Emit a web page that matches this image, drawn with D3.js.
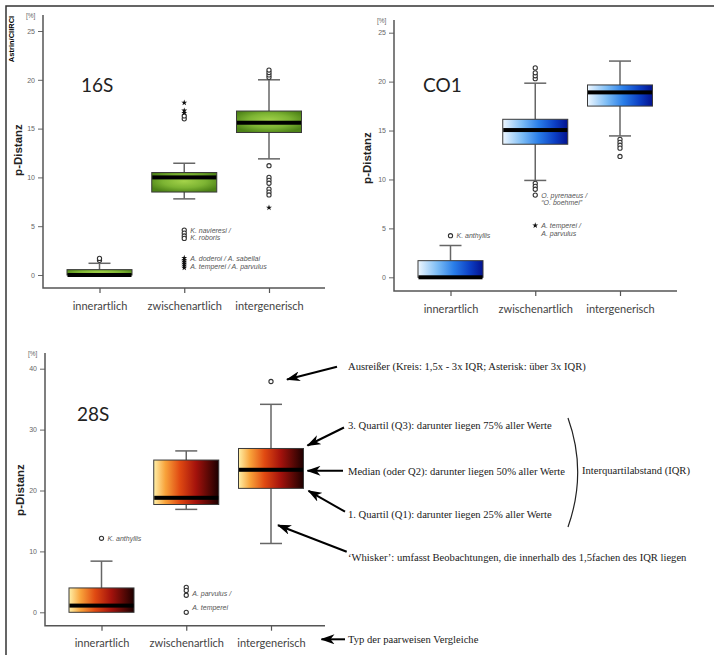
<!DOCTYPE html>
<html>
<head>
<meta charset="utf-8">
<script src="https://cdn.jsdelivr.net/npm/d3@7"></script>
<style>
  body { margin: 0; background: #fff; }
  svg { display: block; }
</style>
</head>
<body>
<div id="chart"></div>
<script>
// categories of pairwise comparison
const categories = ['innerartlich', 'zwischenartlich', 'intergenerisch'];

// 16S box statistics (p-distance, %)
const s16Q1 = [0, 8.5, 14.6];
const s16Median = [0, 10.0, 15.6];
const s16Q3 = [0.55, 10.5, 16.8];
const s16WhiskerLo = [0, 7.8, 11.9];
const s16WhiskerHi = [1.2, 11.45, 20.0];
const s16Circles = [[1.5, 1.7], [16.0, 16.3, 4.6, 4.3, 4.0, 3.75], [20.25, 20.5, 20.75, 21.0, 11.2, 10.0, 9.7, 9.4, 8.8, 8.5, 8.2]];
const s16Stars = [[], [16.6, 16.85, 17.65, 1.75, 1.55, 1.35, 1.15, 0.95, 0.75], [6.9]];
const s16Notes = [
  { cat: 'zwischenartlich', v: 4.6, text: 'K. navieresi /' },
  { cat: 'zwischenartlich', v: 3.85, text: 'K. roboris' },
  { cat: 'zwischenartlich', v: 1.65, text: 'A. doderoi / A. sabellai' },
  { cat: 'zwischenartlich', v: 0.9, text: 'A. temperei / A. parvulus' }
];

// CO1
const co1Q1 = [0, 13.6, 17.5];
const co1Median = [0, 15.05, 18.9];
const co1Q3 = [1.7, 16.15, 19.66];
const co1WhiskerLo = [0, 9.9, 14.45];
const co1WhiskerHi = [3.25, 19.84, 22.1];
const co1Circles = [[4.25], [20.3, 20.6, 20.9, 21.4, 9.6, 9.3, 9.0, 8.4], [14.1, 13.8, 13.5, 13.2, 12.35]];
const co1Stars = [[], [5.3], []];
const co1Notes = [
  { cat: 'innerartlich', v: 4.25, text: 'K. anthyllis' },
  { cat: 'zwischenartlich', v: 8.4, text: 'O. pyrenaeus /' },
  { cat: 'zwischenartlich', v: 7.6, text: '\u201cO. boehmei\u201d' },
  { cat: 'zwischenartlich', v: 5.3, text: 'A. temperei /' },
  { cat: 'zwischenartlich', v: 4.5, text: 'A. parvulus' }
];

// 28S
const s28Q1 = [0, 17.7, 20.35];
const s28Median = [1.1, 18.8, 23.4];
const s28Q3 = [4.0, 25.0, 26.9];
const s28WhiskerLo = [0, 16.9, 11.3];
const s28WhiskerHi = [8.4, 26.5, 34.15];
const s28Circles = [[12.15], [4.1, 3.6, 2.8, 0], [37.9]];
const s28Stars = [[], [], []];
const s28Notes = [
  { cat: 'innerartlich', v: 12.15, text: 'K. anthyllis' },
  { cat: 'zwischenartlich', v: 3.0, text: 'A. parvulus /' },
  { cat: 'zwischenartlich', v: 0.7, text: 'A. temperei' }
];

const ticks25 = [0, 5, 10, 15, 20, 25];
const ticks40 = [0, 10, 20, 30, 40];

const width = 714;
const height = 655;
const boxW = 65;
const capW = 22;

const svg = d3.select('#chart').append('svg')
  .attr('width', width)
  .attr('height', height);

const defs = svg.append('defs');

// box fills
const green = defs.append('radialGradient').attr('id', 'g16').attr('cx', '50%').attr('cy', '45%').attr('r', '60%');
green.append('stop').attr('offset', '0%').attr('stop-color', '#a3d24a');
green.append('stop').attr('offset', '55%').attr('stop-color', '#7db433');
green.append('stop').attr('offset', '100%').attr('stop-color', '#4d8217');

const blue = defs.append('linearGradient').attr('id', 'gco1');
[['0%', '#eef7ff'], ['30%', '#7cbcf5'], ['55%', '#2a7ee8'], ['80%', '#0c3fc4'], ['100%', '#03128f']]
  .forEach(([o, c]) => blue.append('stop').attr('offset', o).attr('stop-color', c));

const orange = defs.append('linearGradient').attr('id', 'g28');
[['0%', '#fff0a8'], ['18%', '#f8a23a'], ['40%', '#e04a12'], ['65%', '#a4120c'], ['100%', '#1c0000']]
  .forEach(([o, c]) => orange.append('stop').attr('offset', o).attr('stop-color', c));

defs.append('marker')
  .attr('id', 'arrow')
  .attr('viewBox', '0 0 14 10')
  .attr('refX', 13).attr('refY', 5)
  .attr('markerWidth', 14).attr('markerHeight', 10)
  .attr('markerUnits', 'userSpaceOnUse')
  .attr('orient', 'auto')
  .append('path')
  .attr('d', 'M0,0 L14,5 L0,10 L4,5 Z')
  .attr('fill', '#000');

// frame
svg.append('path')
  .attr('d', `M6,${height} V6 H${width}`)
  .attr('fill', 'none')
  .attr('stroke', '#333')
  .attr('stroke-width', 1.5);

svg.append('text')
  .attr('transform', 'translate(14,39) rotate(-90)')
  .attr('text-anchor', 'middle')
  .attr('font-family', 'Liberation Sans, Arial, sans-serif')
  .attr('font-size', 7.5)
  .attr('font-weight', 'bold')
  .text('Astrin/CIIRCI');

function drawPanel(p) {
  const g = svg.append('g');
  const x = d3.scalePoint().domain(categories).range([p.x0 + 56.5, p.x0 + 226]);
  const y = d3.scaleLinear().domain(p.domain).range(p.range);

  // y axis
  const ya = g.append('g')
    .attr('transform', `translate(${p.x0},0)`)
    .call(d3.axisLeft(y).tickValues(p.ticks).tickSize(5).tickPadding(3));
  ya.select('.domain').remove();
  ya.selectAll('line').attr('stroke', '#666');
  ya.selectAll('text').attr('fill', '#666').attr('font-size', 7).attr('font-family', 'Liberation Sans, Arial, sans-serif');

  // x axis
  const xa = g.append('g')
    .attr('transform', `translate(0,${p.axisY})`)
    .call(d3.axisBottom(x).tickSize(5).tickPadding(9));
  xa.select('.domain').remove();
  xa.selectAll('line').attr('stroke', '#555').attr('stroke-width', 1.2);
  xa.selectAll('text').attr('fill', '#444').attr('font-size', 11).attr('font-family', 'Lato, Open Sans, sans-serif');

  g.append('path')
    .attr('d', `M${p.x0},${p.top} V${p.axisY} H${p.xEnd}`)
    .attr('fill', 'none')
    .attr('stroke', '#555')
    .attr('stroke-width', 1.5);

  g.append('text')
    .attr('x', p.x0 - 17).attr('y', p.top + 3)
    .attr('font-size', 6.5).attr('fill', '#666')
    .attr('font-family', 'Liberation Sans, Arial, sans-serif')
    .text('[%]');

  g.append('text')
    .attr('transform', `translate(${p.labelX},${p.labelY}) rotate(-90)`)
    .attr('text-anchor', 'middle')
    .attr('font-family', 'Liberation Sans, Arial, sans-serif')
    .attr('font-weight', 'bold')
    .attr('font-size', 11.5)
    .attr('fill', '#222')
    .text('p-Distanz');

  g.append('text')
    .attr('x', p.titleX).attr('y', p.titleY)
    .attr('font-family', 'Lato, Open Sans, sans-serif')
    .attr('font-weight', 400)
    .attr('font-size', 19)
    .attr('fill', '#222')
    .text(p.name);

  categories.forEach((c, i) => {
    const cx = x(c);
    const wg = g.append('g').attr('stroke', '#666').attr('stroke-width', 1.5);
    wg.append('line').attr('x1', cx).attr('x2', cx).attr('y1', y(p.q3[i])).attr('y2', y(p.hi[i]));
    wg.append('line').attr('x1', cx).attr('x2', cx).attr('y1', y(p.q1[i])).attr('y2', y(p.lo[i]));
    if (p.hi[i] > p.q3[i]) wg.append('line').attr('x1', cx - capW / 2).attr('x2', cx + capW / 2).attr('y1', y(p.hi[i])).attr('y2', y(p.hi[i]));
    if (p.lo[i] < p.q1[i]) wg.append('line').attr('x1', cx - capW / 2).attr('x2', cx + capW / 2).attr('y1', y(p.lo[i])).attr('y2', y(p.lo[i]));

    g.append('rect')
      .attr('x', cx - boxW / 2)
      .attr('y', y(p.q3[i]))
      .attr('width', boxW)
      .attr('height', Math.max(2, y(p.q1[i]) - y(p.q3[i])))
      .attr('fill', `url(#${p.fill})`)
      .attr('stroke', '#3a3a3a')
      .attr('stroke-width', 1);

    g.append('rect')
      .attr('x', cx - boxW / 2 + 0.5)
      .attr('y', y(p.median[i]) - 2)
      .attr('width', boxW - 1)
      .attr('height', 4)
      .attr('fill', '#000');

    g.selectAll(null).data(p.circles[i]).join('circle')
      .attr('cx', cx).attr('cy', d => y(d))
      .attr('r', 2.1)
      .attr('fill', '#fff')
      .attr('stroke', '#333')
      .attr('stroke-width', 1.1);

    g.selectAll(null).data(p.stars[i]).join('path')
      .attr('transform', d => `translate(${cx},${y(d)})`)
      .attr('d', d3.symbol(d3.symbolStar, 11))
      .attr('fill', '#111');
  });

  g.selectAll(null).data(p.notes).join('text')
    .attr('x', d => x(d.cat) + 6)
    .attr('y', d => y(d.v))
    .attr('dy', '0.35em')
    .attr('font-family', 'Liberation Sans, Arial, sans-serif')
    .attr('font-style', 'italic')
    .attr('font-size', 7)
    .attr('fill', '#555')
    .text(d => d.text);

  return { x, y };
}

drawPanel({
  name: '16S', x0: 43, top: 15, axisY: 288, xEnd: 325,
  domain: [0, 25], range: [275, 31], ticks: ticks25,
  labelX: 22, labelY: 150, titleX: 81, titleY: 92,
  q1: s16Q1, median: s16Median, q3: s16Q3, lo: s16WhiskerLo, hi: s16WhiskerHi,
  circles: s16Circles, stars: s16Stars, notes: s16Notes, fill: 'g16'
});

drawPanel({
  name: 'CO1', x0: 394, top: 20, axisY: 291, xEnd: 677,
  domain: [0, 25], range: [277.3, 32.7], ticks: ticks25,
  labelX: 371, labelY: 158, titleX: 423, titleY: 92,
  q1: co1Q1, median: co1Median, q3: co1Q3, lo: co1WhiskerLo, hi: co1WhiskerHi,
  circles: co1Circles, stars: co1Stars, notes: co1Notes, fill: 'gco1'
});

const p28 = drawPanel({
  name: '28S', x0: 45, top: 353, axisY: 625.7, xEnd: 325,
  domain: [0, 40], range: [612.3, 368.7], ticks: ticks40,
  labelX: 24, labelY: 490, titleX: 77, titleY: 421,
  q1: s28Q1, median: s28Median, q3: s28Q3, lo: s28WhiskerLo, hi: s28WhiskerHi,
  circles: s28Circles, stars: s28Stars, notes: s28Notes, fill: 'g28'
});

// explanatory notes pointing at the 28S intergeneric box
const ix = p28.x('intergenerisch');
const iy = p28.y;
const right = ix + boxW / 2;
const notes = [
  { text: 'Ausreißer (Kreis: 1,5x - 3x IQR; Asterisk: über 3x IQR)', ty: 366.7, from: [337, 366.7], to: [ix + 16, iy(s28Circles[2][0]) - 2] },
  { text: '3. Quartil (Q3): darunter liegen 75% aller Werte', ty: 425, from: [344, 427.5], to: [right + 4, iy(s28Q3[2]) - 3] },
  { text: 'Median (oder Q2): darunter liegen 50% aller Werte', ty: 471, from: [343, iy(s28Median[2]) + 1], to: [right + 4, iy(s28Median[2]) + 1] },
  { text: '1. Quartil (Q1): darunter liegen 25% aller Werte', ty: 514.3, from: [345, 511.7], to: [right + 5, iy(s28Q1[2]) + 2.4] },
  { text: '\u2018Whisker\u2019: umfasst Beobachtungen, die innerhalb des 1,5fachen des IQR liegen', ty: 557.3, from: [346.7, 551.7], to: [ix + 7, iy(14.3)] },
  { text: 'Typ der paarweisen Vergleiche', ty: 639.3, from: [345, 639.3], to: [321.5, 639.3] }
];

svg.append('g').selectAll('line').data(notes).join('line')
  .attr('x1', d => d.from[0]).attr('y1', d => d.from[1])
  .attr('x2', d => d.to[0]).attr('y2', d => d.to[1])
  .attr('stroke', '#000')
  .attr('stroke-width', 2)
  .attr('marker-end', 'url(#arrow)');

svg.append('g').selectAll('text').data(notes).join('text')
  .attr('x', 348)
  .attr('y', d => d.ty)
  .attr('dy', '0.35em')
  .attr('font-family', 'Liberation Serif, Times New Roman, serif')
  .attr('font-size', 10.6)
  .attr('fill', '#1a1a1a')
  .text(d => d.text);

// bracket for IQR
svg.append('path')
  .attr('d', 'M568,418 Q587.4,472 568,527')
  .attr('fill', 'none')
  .attr('stroke', '#222')
  .attr('stroke-width', 1.2);

svg.append('text')
  .attr('x', 582).attr('y', 470)
  .attr('dy', '0.35em')
  .attr('font-family', 'Liberation Serif, Times New Roman, serif')
  .attr('font-size', 10.6)
  .attr('fill', '#1a1a1a')
  .text('Interquartilabstand (IQR)');
</script>
</body>
</html>
